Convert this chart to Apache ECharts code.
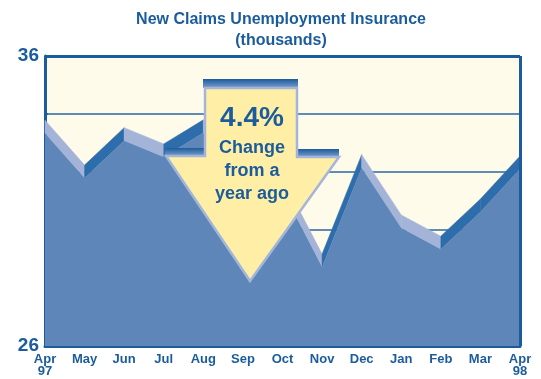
<!DOCTYPE html>
<html>
<head>
<meta charset="utf-8">
<script src="https://cdn.jsdelivr.net/npm/echarts@6/dist/echarts.min.js"></script>
<style>
  html, body { margin: 0; padding: 0; background: #ffffff; }
  #chart { width: 541px; height: 379px; }
</style>
</head>
<body>
<div id="chart"></div>
<script>
// Monthly new claims, thousands
const months = ['Apr\n97', 'May', 'Jun', 'Jul', 'Aug', 'Sep', 'Oct', 'Nov', 'Dec', 'Jan', 'Feb', 'Mar', 'Apr\n98'];
const claims = [33.34, 31.79, 33.08, 32.52, 33.35, 30.4, 31.35, 28.72, 32.15, 30.07, 29.34, 30.62, 32.1];
const yTickLabels = ['26', '36'];
const changeText = ['4.4%', 'Change', 'from a', 'year ago'];

const BLUE = '#1b5c9c';
const FRONT = '#5f86b9';
const LIGHT = '#a4b4d8';
const DARK = '#2e6dab';
const DEPTH = 13; // extrusion height of the area's top face, px

const chart = echarts.init(document.getElementById('chart'), null, { renderer: 'canvas' });

// top face segments: [index, value, next value]
const faceData = claims.slice(0, -1).map((v, i) => [i, v, claims[i + 1]]);

const font = '"Liberation Sans", Arial, sans-serif';

chart.setOption({
  animation: false,
  title: {
    text: 'New Claims Unemployment Insurance\n(thousands)',
    left: 276,
    textAlign: 'center',
    top: 4,
    itemGap: 0,
    textStyle: { color: BLUE, fontSize: 16, fontWeight: 'bold', fontFamily: font, lineHeight: 21 }
  },
  grid: { left: 45, right: 21, top: 56, bottom: 33, show: true, backgroundColor: '#fffbea', borderColor: BLUE, borderWidth: 0 },
  xAxis: {
    type: 'category',
    data: months,
    boundaryGap: false,
    axisLine: { show: true, lineStyle: { color: BLUE, width: 3 } },
    axisTick: { show: false },
    axisLabel: { color: BLUE, fontFamily: font, fontWeight: 'bold', fontSize: 13, lineHeight: 12, margin: 7, interval: 0 },
    splitLine: { show: false }
  },
  yAxis: {
    type: 'value',
    min: 26, max: 36, interval: 2,
    axisLine: { show: true, lineStyle: { color: BLUE, width: 3 } },
    axisTick: { show: true, length: 3, inside: true, lineStyle: { color: BLUE, width: 1.5 } },
    axisLabel: {
      color: BLUE, fontFamily: font, fontWeight: 'bold', fontSize: 19, margin: 6,
      formatter: v => (yTickLabels.indexOf(String(v)) >= 0 ? String(v) : '')
    },
    splitLine: { show: true, lineStyle: { color: '#2a66a6', width: 1.5 } }
  },
  series: [
    {
      // extruded top face of the area: light on falling segments, dark on rising ones
      type: 'custom',
      z: 2,
      data: faceData,
      renderItem: function (params, api) {
        const i = api.value(0);
        const a = api.coord([i, api.value(1)]);
        const b = api.coord([i + 1, api.value(2)]);
        const falling = api.value(2) < api.value(1);
        return {
          type: 'polygon',
          shape: { points: [a, b, [b[0], b[1] - DEPTH], [a[0], a[1] - DEPTH]] },
          style: { fill: falling ? LIGHT : DARK, stroke: falling ? LIGHT : DARK, lineWidth: 0.5 }
        };
      }
    },
    {
      type: 'line',
      z: 3,
      data: claims,
      symbol: 'none',
      lineStyle: { width: 0 },
      areaStyle: { color: FRONT, opacity: 1, origin: 'start' }
    },
    {
      // right and top edges of the plot frame
      type: 'line',
      z: 4,
      data: [],
      markLine: {
        silent: true, symbol: 'none', label: { show: false },
        lineStyle: { color: BLUE, width: 3, type: 'solid' },
        data: [
          [{ coord: [months.length - 1, 26] }, { coord: [months.length - 1, 36] }],
          [{ coord: [0, 36] }, { coord: [months.length - 1, 36] }]
        ]
      }
    }
  ],
  graphic: [
    // arrow callout
    { type: 'rect', z: 10, shape: { x: 203, y: 79, width: 95, height: 9 },
      style: { fill: new echarts.graphic.LinearGradient(0, 0, 0, 1, [{ offset: 0, color: '#1b5c9c' }, { offset: 1, color: '#7c9ccb' }]) } },
    { type: 'rect', z: 10, shape: { x: 165, y: 148, width: 40, height: 8 },
      style: { fill: new echarts.graphic.LinearGradient(0, 0, 0, 1, [{ offset: 0, color: '#1b5c9c' }, { offset: 1, color: '#7c9ccb' }]) } },
    { type: 'rect', z: 10, shape: { x: 297, y: 149, width: 42, height: 8 },
      style: { fill: new echarts.graphic.LinearGradient(0, 0, 0, 1, [{ offset: 0, color: '#1b5c9c' }, { offset: 1, color: '#7c9ccb' }]) } },
    { type: 'polygon', z: 11,
      shape: { points: [[205, 88], [297, 88], [297, 157], [339, 157], [250, 281], [166, 156], [205, 156]] },
      style: { fill: '#ffeea6', stroke: '#a3b6da', lineWidth: 2.5, lineJoin: 'miter' } },
    { type: 'text', z: 12, style: { text: changeText[0], x: 252, y: 118, textAlign: 'center', textVerticalAlign: 'middle',
      fill: BLUE, font: 'bold 28px ' + font } },
    { type: 'text', z: 12, style: { text: changeText[1], x: 252, y: 148, textAlign: 'center', textVerticalAlign: 'middle',
      fill: BLUE, font: 'bold 18px ' + font } },
    { type: 'text', z: 12, style: { text: changeText[2], x: 252, y: 171, textAlign: 'center', textVerticalAlign: 'middle',
      fill: BLUE, font: 'bold 18px ' + font } },
    { type: 'text', z: 12, style: { text: changeText[3], x: 252, y: 194, textAlign: 'center', textVerticalAlign: 'middle',
      fill: BLUE, font: 'bold 18px ' + font } }
  ]
});
</script>
</body>
</html>
